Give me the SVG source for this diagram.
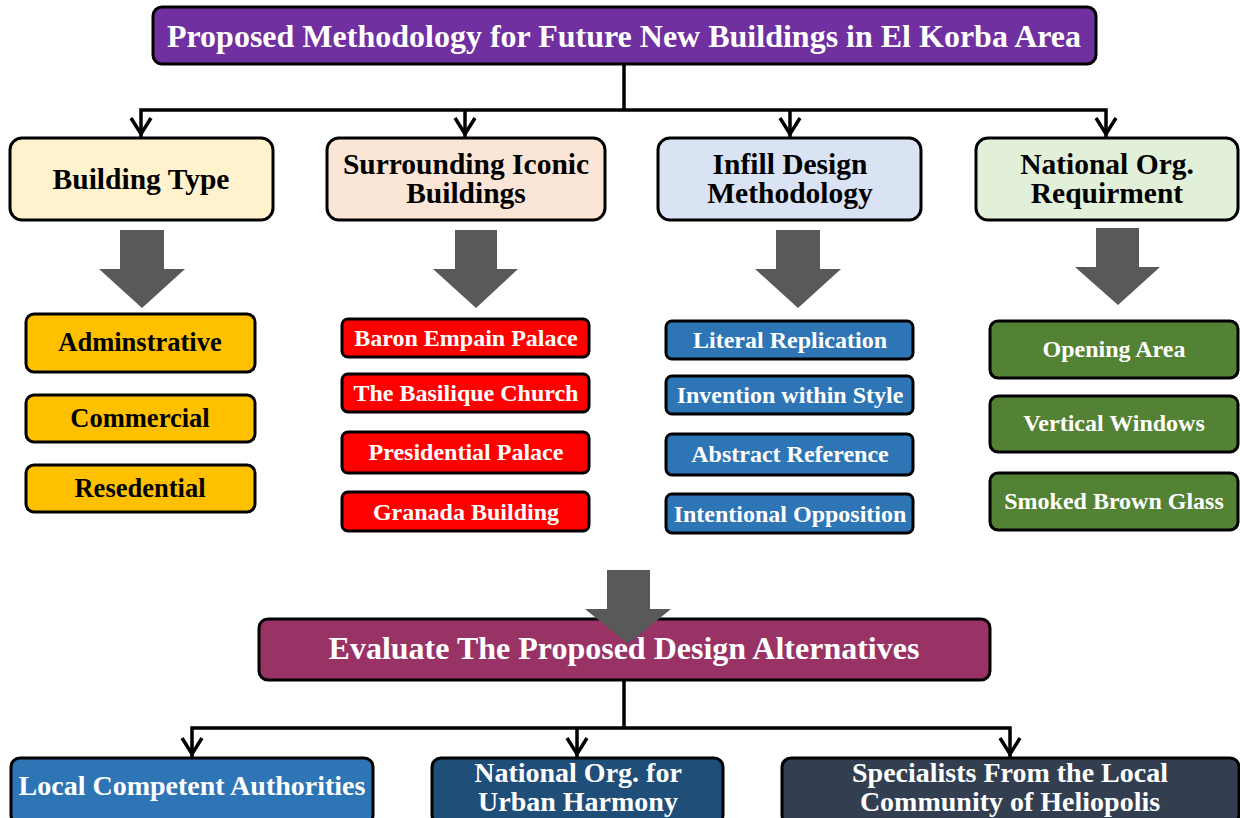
<svg xmlns="http://www.w3.org/2000/svg" width="1240" height="818" viewBox="0 0 1240 818">
  <style>
    .box { stroke: #000; stroke-width: 3; }
    .t { font-family: "Liberation Serif", "Times New Roman", serif; font-weight: bold; text-anchor: middle; }
    .w { fill: #fff; }
    .k { fill: #000; }
    .h2 { font-size: 29.5px; }
    .h3 { font-size: 26.5px; }
    .h4 { font-size: 24px; }
    .h5 { font-size: 28px; }
    .link { fill: none; stroke: #000; stroke-width: 3.5; }
    .head { fill: none; stroke: #000; stroke-width: 3.5; stroke-linecap: butt; }
    .big { fill: #595959; }
  </style>

  <rect width="1240" height="818" fill="#fff"/>

  <!-- connectors -->
  <g id="connectors">
    <path class="link" d="M624 64 V110 M141 137 V110 H1106 V137 M465 110 V137 M790 110 V137"/>
    <path class="head" d="M131 118 L141 134 L151 118 M455 118 L465 134 L475 118 M780 118 L790 134 L800 118 M1096 118 L1106 134 L1116 118"/>
    <path class="link" d="M624 680 V728 M192 757 V728 H1010 V757 M577 728 V757"/>
    <path class="head" d="M182 738 L192 754 L202 738 M567 738 L577 754 L587 738 M1000 738 L1010 754 L1020 738"/>
    <!-- block arrows -->
    <path class="big" d="M120 230 H164 V269 H185 L142 308 L99 269 H120 Z"/>
    <path class="big" d="M455 230 H497 V269 H518 L476 308 L433 269 H455 Z"/>
    <path class="big" d="M776 230 H820 V269 H841 L798 308 L755 269 H776 Z"/>
    <path class="big" d="M1096 228 H1139 V267 H1160 L1118 305 L1075 267 H1096 Z"/>
  </g>

  <!-- title -->
  <g id="title">
    <rect class="box" x="153" y="7" width="943" height="57" rx="9" fill="#7030A0"/>
    <text class="t w" x="624" y="47" font-size="32">Proposed Methodology for Future New Buildings in El Korba Area</text>
  </g>

  <!-- categories -->
  <g id="building-type">
    <rect class="box" x="10" y="138" width="263" height="82" rx="12" fill="#FFF2CC"/>
    <text class="t k h2" x="141" y="189">Building Type</text>
  </g>
  <g id="iconic-buildings">
    <rect class="box" x="327" y="138" width="278" height="82" rx="12" fill="#FBE5D6"/>
    <text class="t k h2" x="466" y="174">Surrounding Iconic</text>
    <text class="t k h2" x="466" y="203">Buildings</text>
  </g>
  <g id="infill-design">
    <rect class="box" x="658" y="138" width="263" height="82" rx="12" fill="#DAE3F3"/>
    <text class="t k h2" x="790" y="174">Infill Design</text>
    <text class="t k h2" x="790" y="203">Methodology</text>
  </g>
  <g id="national-org">
    <rect class="box" x="976" y="138" width="262" height="82" rx="12" fill="#E2F0D9"/>
    <text class="t k h2" x="1107" y="174">National Org.</text>
    <text class="t k h2" x="1107" y="203">Requirment</text>
  </g>

  <!-- building types -->
  <g id="administrative">
    <rect class="box" x="26" y="314" width="229" height="58" rx="8" fill="#FFC000"/>
    <text class="t k h3" x="140" y="351">Adminstrative</text>
  </g>
  <g id="commercial">
    <rect class="box" x="26" y="395" width="229" height="47" rx="8" fill="#FFC000"/>
    <text class="t k h3" x="140" y="427">Commercial</text>
  </g>
  <g id="residential">
    <rect class="box" x="26" y="465" width="229" height="47" rx="8" fill="#FFC000"/>
    <text class="t k h3" x="140" y="497">Resedential</text>
  </g>

  <!-- iconic buildings -->
  <g id="baron-empain">
    <rect class="box" x="342" y="319" width="247" height="38" rx="6" fill="#FF0000"/>
    <text class="t w h4" x="466" y="346">Baron Empain Palace</text>
  </g>
  <g id="basilique">
    <rect class="box" x="342" y="374" width="247" height="38" rx="6" fill="#FF0000"/>
    <text class="t w h4" x="466" y="401">The Basilique Church</text>
  </g>
  <g id="presidential">
    <rect class="box" x="342" y="432" width="247" height="41" rx="6" fill="#FF0000"/>
    <text class="t w h4" x="466" y="460">Presidential Palace</text>
  </g>
  <g id="granada">
    <rect class="box" x="342" y="492" width="247" height="39" rx="6" fill="#FF0000"/>
    <text class="t w h4" x="466" y="520">Granada Building</text>
  </g>

  <!-- infill methods -->
  <g id="literal">
    <rect class="box" x="666" y="321" width="247" height="38" rx="6" fill="#2E75B6"/>
    <text class="t w h4" x="790" y="348">Literal Replication</text>
  </g>
  <g id="invention">
    <rect class="box" x="666" y="376" width="247" height="38" rx="6" fill="#2E75B6"/>
    <text class="t w h4" x="790" y="403">Invention within Style</text>
  </g>
  <g id="abstract">
    <rect class="box" x="666" y="434" width="247" height="41" rx="6" fill="#2E75B6"/>
    <text class="t w h4" x="790" y="462">Abstract Reference</text>
  </g>
  <g id="opposition">
    <rect class="box" x="666" y="494" width="247" height="39" rx="6" fill="#2E75B6"/>
    <text class="t w h4" x="790" y="522">Intentional Opposition</text>
  </g>

  <!-- requirements -->
  <g id="opening-area">
    <rect class="box" x="990" y="321" width="248" height="57" rx="8" fill="#548235"/>
    <text class="t w h4" x="1114" y="357">Opening Area</text>
  </g>
  <g id="vertical-windows">
    <rect class="box" x="990" y="396" width="248" height="56" rx="8" fill="#548235"/>
    <text class="t w h4" x="1114" y="431">Vertical Windows</text>
  </g>
  <g id="smoked-glass">
    <rect class="box" x="990" y="473" width="248" height="57" rx="8" fill="#548235"/>
    <text class="t w h4" x="1114" y="509">Smoked Brown Glass</text>
  </g>

  <!-- evaluation -->
  <g id="evaluate">
    <rect class="box" x="259" y="619" width="731" height="61" rx="9" fill="#993366"/>
    <path class="big" d="M607 570 H650 V609 H671 L628 644 L585 609 H607 Z"/>
    <text class="t w" x="624" y="659" font-size="32">Evaluate The Proposed Design Alternatives</text>
  </g>

  <!-- reviewers -->
  <g id="local-authorities">
    <rect class="box" x="11" y="758" width="362" height="66" rx="9" fill="#2E75B6"/>
    <text class="t w h5" x="192" y="795">Local Competent Authorities</text>
  </g>
  <g id="urban-harmony">
    <rect class="box" x="432" y="758" width="291" height="66" rx="9" fill="#1F4E79"/>
    <text class="t w h5" x="578" y="782">National Org. for</text>
    <text class="t w h5" x="578" y="811">Urban Harmony</text>
  </g>
  <g id="specialists">
    <rect class="box" x="782" y="758" width="457" height="66" rx="9" fill="#333F50"/>
    <text class="t w h5" x="1010" y="782">Specialists From the Local</text>
    <text class="t w h5" x="1010" y="811">Community of Heliopolis</text>
  </g>
</svg>
